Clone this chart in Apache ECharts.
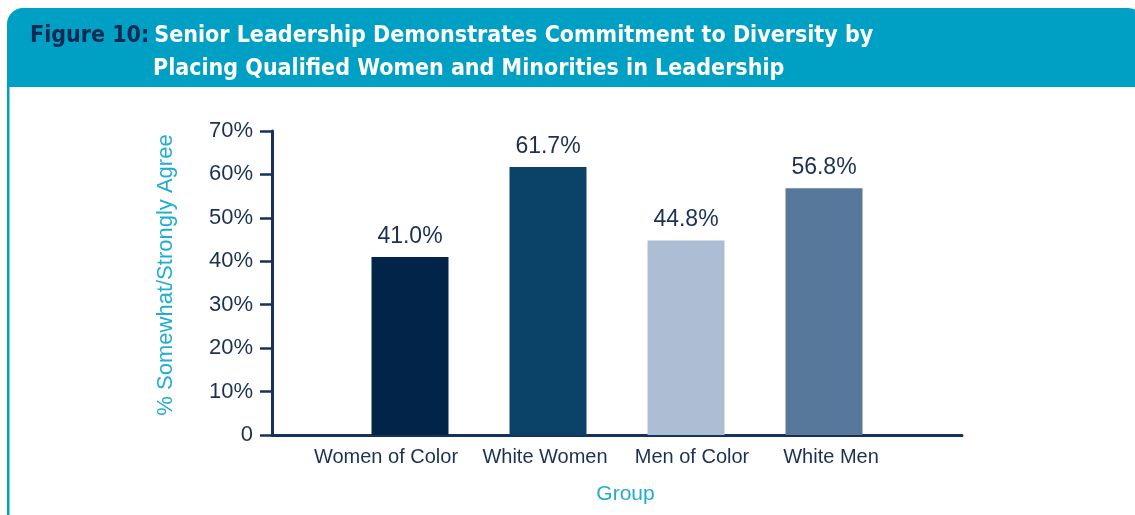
<!DOCTYPE html>
<html>
<head>
<meta charset="utf-8">
<script src="https://cdn.jsdelivr.net/npm/echarts@6/dist/echarts.min.js"></script>
<style>
html,body{margin:0;padding:0;background:#fff;}
#chart{width:1135px;height:515px;}
</style>
</head>
<body>
<div id="chart"></div>
<script>
// ---- data ----
var categories = ['', 'Women of Color', 'White Women', 'Men of Color', 'White Men', ''];
var values = ['-', 41.0, 61.7, 44.8, 56.8, '-'];
var barColors = ['#ffffff', '#022449', '#0b4267', '#adbdd3', '#57789a', '#ffffff'];
var yTicks = [0, 10, 20, 30, 40, 50, 60, 70];
var titleLead = 'Figure 10:';
var titleLine1 = 'Senior Leadership Demonstrates Commitment to Diversity by';
var titleLine2 = 'Placing Qualified Women and Minorities in Leadership';
var yName = '% Somewhat/Strongly Agree';
var xName = 'Group';

var teal = '#00a0c5';
var navy = '#17325a';
var condensed = '"DejaVu Sans Condensed", "DejaVu Sans", sans-serif';
var regular = '"Liberation Sans", Arial, sans-serif';

var chart = echarts.init(document.getElementById('chart'));
var seriesData = values.map(function (v, i) {
  return { value: v, itemStyle: { color: barColors[i] } };
});

var catLabelStyle = { color: '#1c3152', fontFamily: regular, fontSize: 20 };
var catRich = {
  c1: Object.assign({ padding: [0, 48, 0, 0] }, catLabelStyle),
  c2: Object.assign({ padding: [0, 6, 0, 0] }, catLabelStyle),
  c3: Object.assign({ padding: [0, 0, 0, 12] }, catLabelStyle),
  c4: Object.assign({ padding: [0, 0, 0, 14] }, catLabelStyle)
};

chart.setOption({
  animation: false,
  backgroundColor: '#ffffff',
  graphic: [
    { type: 'rect', z: 0, shape: { x: 7, y: 8, width: 1137, height: 79, r: [16, 16, 0, 0] }, style: { fill: teal } },
    { type: 'rect', z: 0, shape: { x: 7, y: 86, width: 2.5, height: 440 }, style: { fill: teal } }
  ],
  title: [
    {
      left: 30, top: 25, padding: 0,
      text: '{a|' + titleLead + '} {b|' + titleLine1 + '}',
      textStyle: {
        rich: {
          a: { color: '#0f2a52', fontFamily: condensed, fontWeight: 'bold', fontSize: 23 },
          b: { color: '#ffffff', fontFamily: condensed, fontWeight: 'bold', fontSize: 23 }
        }
      }
    },
    {
      left: 153, top: 58, padding: 0,
      text: titleLine2,
      textStyle: { color: '#ffffff', fontFamily: condensed, fontWeight: 'bold', fontSize: 23 }
    }
  ],
  grid: { left: 272, right: 173, top: 131, bottom: 80, containLabel: false },
  xAxis: {
    type: 'category',
    data: categories,
    boundaryGap: false,
    axisLine: { show: true, lineStyle: { color: navy, width: 3 } },
    axisTick: { show: false },
    axisLabel: {
      interval: 0, color: '#1c3152', fontFamily: regular, fontSize: 20, margin: 12,
      formatter: function (v, i) { return v ? '{c' + i + '|' + v + '}' : ''; },
      rich: catRich
    },
    name: xName,
    nameLocation: 'middle',
    nameGap: 49,
    nameTextStyle: { color: '#1fadd0', fontFamily: regular, fontSize: 21, padding: [0, 0, 0, 17] },
    splitLine: { show: false }
  },
  yAxis: {
    type: 'value',
    min: 0, max: 70, interval: 10,
    axisLine: { show: true, lineStyle: { color: navy, width: 3 } },
    axisTick: { show: true, length: 12, lineStyle: { color: navy, width: 2.5 } },
    axisLabel: {
      color: '#1c3152', fontFamily: regular, fontSize: 22, margin: 19,
      formatter: function (v) { return v === 0 ? '0' : v + '%'; }
    },
    splitLine: { show: false },
    name: yName,
    nameLocation: 'middle',
    nameRotate: 90,
    nameGap: 95,
    nameTextStyle: { color: '#1fadd0', fontFamily: regular, fontSize: 22, padding: [0, 0, 0, 16] }
  },
  series: [{
    type: 'bar',
    data: seriesData,
    barWidth: 77,
    label: {
      show: true, position: 'top', distance: 9,
      color: '#1c3152', fontFamily: regular, fontSize: 23,
      formatter: function (p) { return p.value.toFixed(1) + '%'; }
    }
  }]
});
</script>
</body>
</html>
